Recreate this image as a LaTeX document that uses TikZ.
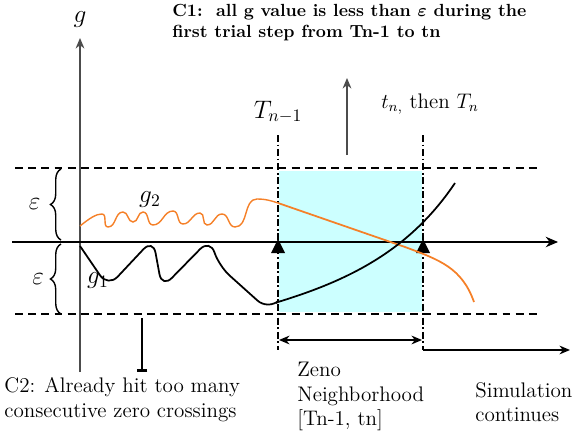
\documentclass[tikz,border=0pt]{standalone}
\usepackage{amsmath}
\usepackage{amssymb}
\usetikzlibrary{arrows.meta,positioning,decorations.pathreplacing}
\definecolor{zenocyan}{RGB}{204,255,255}
\definecolor{gorange}{RGB}{245,128,40}
\begin{document}
\begin{tikzpicture}[
  x=0.02cm, y=-0.02cm,
  >=Stealth,
  axis/.style={line width=0.8pt},
  gaxis/.style={line width=0.8pt, black!70},
  bound/.style={line width=1pt, dash pattern=on 4.5pt off 3pt},
  tline/.style={line width=0.9pt, dash pattern=on 4pt off 1.5pt on 1pt off 1.5pt},
  brc/.style={decorate, decoration={brace, amplitude=6pt}, line width=0.8pt},
  curve/.style={line width=1pt, black},
  wave/.style={gorange, line width=0.8pt, out=0, in=180},
  txt/.style={align=left, anchor=north west, inner sep=0pt, font=\large},
  mlbl/.style={font=\Large},
  tri/.style={fill=black},
]
  \useasboundingbox (0,0) rectangle (582,436);

  %% Zeno neighbourhood box
  \fill[zenocyan] (279,171) rectangle (422,312);

  %% axes
  \coordinate (gbot) at (80,372);
  \coordinate (gtop) at (80,38);
  \node[mlbl] (glbl) at (80,20) {$g$};
  \draw[gaxis,-{Stealth[length=6pt,width=5pt]}] (gbot) -- (gtop);
  \coordinate (xl) at (12,242);
  \coordinate (xr) at (558,242);
  \draw[axis,-{Stealth[length=7pt,width=6pt]}] (xl) -- (xr);

  %% epsilon bounds
  \coordinate (ubl) at (15,168);  \coordinate (ubr) at (540,168);
  \coordinate (lbl) at (15,314);  \coordinate (lbr) at (540,314);
  \draw[bound] (ubl) -- (ubr);
  \draw[bound] (lbl) -- (lbr);
  \draw[brc] (61,240) -- (61,169) node[midway, left=8pt, mlbl] (eps1) {$\varepsilon$};
  \draw[brc] (61,314) -- (61,244) node[midway, left=6pt, mlbl] (eps2) {$\varepsilon$};

  %% step boundaries
  \coordinate (tpa) at (278,135); \coordinate (tpb) at (278,350);
  \coordinate (tna) at (423,135); \coordinate (tnb) at (423,350);
  \draw[tline] (tpa) -- (tpb);
  \draw[tline] (tna) -- (tnb);
  \node[mlbl] (tplbl) at (278,112) {$T_{n-1}$};
  \node[font=\large] (tnlbl) at (430,104) {$t_{n,}$ then $T_n$};
  \fill[tri] (278,239) -- (285,253) -- (271,253) -- cycle;
  \fill[tri] (423,239) -- (430,253) -- (416,253) -- cycle;

  %% g2 (orange)
  \draw[wave] (80,226) .. controls (90,218) and (96,214) .. (102,214)
    to (108,227) to (123,212) to (133,222) to (143,212) to (153,225)
    to (173,211) to (183,224) to (200,213) to (207,225) to (222,214)
    to (235,227) to (257,199) .. controls (266,199) and (272,201) .. (278,203);
  \draw[gorange, line width=1pt] (278,203) -- (405,247)
    .. controls (440,260) and (462,268) .. (474,302);
  \node[mlbl] (g2lbl) at (150,200) {$g_2$};

  %% g1 (black)
  \draw[curve, rounded corners=8pt] (80,246) -- (108,287) -- (153,239)
    -- (162,288) -- (210,239) -- (219,266) -- (268,310) -- (276,303);
  \draw[curve] (276,303) -- (278,302) .. controls (350,280) and (410,250) .. (455,183);
  \node[mlbl] (g1lbl) at (98,281) {$g_1$};

  %% condition C1
  \coordinate (c1a) at (347,155);
  \coordinate (c1b) at (347,78);
  \draw[gaxis,-{Stealth[length=6pt,width=5pt]}] (c1a) -- (c1b);
  \node[txt, font=\bfseries] (c1) at (172,4) {C1:\ \ all g value is less than $\boldsymbol{\varepsilon}$ during the\\first trial step from Tn-1 to tn};

  %% condition C2
  \coordinate (c2a) at (142,318);
  \coordinate (c2b) at (142,372);
  \draw[line width=0.8pt,-{Bar[width=6pt,line width=1.5pt]}] (c2a) -- (c2b);
  \node[txt] (c2) at (4,377) {C2: Already hit too many\\consecutive zero crossings};

  %% Zeno neighbourhood and continuation
  \coordinate (zl) at (279,340); \coordinate (zr) at (422,340);
  \draw[line width=0.8pt,{Stealth[length=6pt,width=5pt]}-{Stealth[length=6pt,width=5pt]}] (zl) -- (zr);
  \coordinate (sl) at (423,350); \coordinate (sr) at (570,350);
  \draw[line width=0.8pt,-{Stealth[length=6pt,width=5pt]}] (sl) -- (sr);
  \node[txt] (zeno) at (297,362) {Zeno\\Neighborhood\\{}[Tn-1, tn]};
  \node[txt] (simc) at (475,382) {Simulation\\continues};
\end{tikzpicture}
\end{document}
